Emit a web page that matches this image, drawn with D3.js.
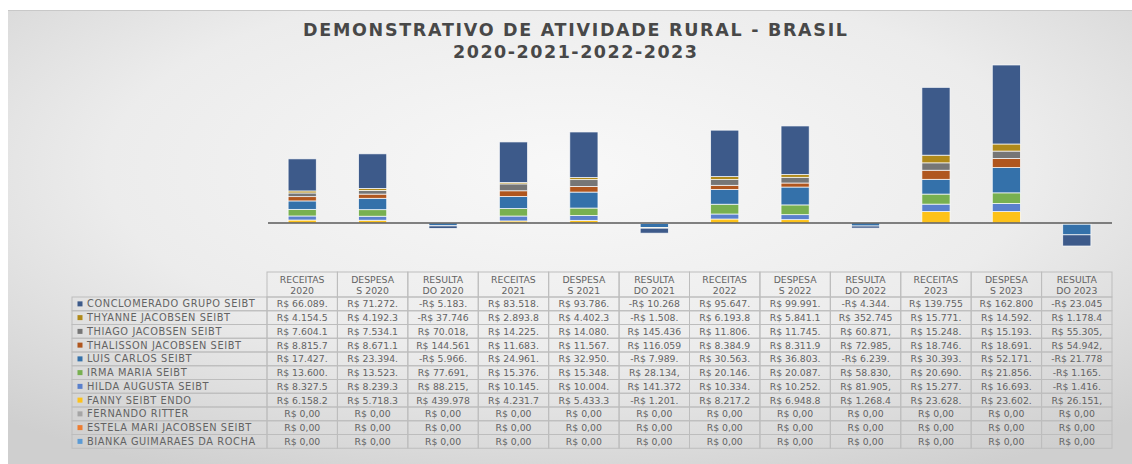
<!DOCTYPE html>
<html><head><meta charset="utf-8">
<script src="https://cdn.jsdelivr.net/npm/d3@7"></script>
<style>html,body{margin:0;padding:0;background:#fff;}svg{display:block;}</style>
</head><body>
<svg id="c" width="1132" height="464"></svg>
<script>
// ---- data ----
const categories = ["RECEITAS 2020","DESPESAS 2020","RESULTADO 2020","RECEITAS 2021","DESPESAS 2021","RESULTADO 2021","RECEITAS 2022","DESPESAS 2022","RESULTADO 2022","RECEITAS 2023","DESPESAS 2023","RESULTADO 2023"];
const headerLines = [["RECEITAS","2020"],["DESPESA","S 2020"],["RESULTA","DO 2020"],["RECEITAS","2021"],["DESPESA","S 2021"],["RESULTA","DO 2021"],["RECEITAS","2022"],["DESPESA","S 2022"],["RESULTA","DO 2022"],["RECEITAS","2023"],["DESPESA","S 2023"],["RESULTA","DO 2023"]];
const seriesNames = ["CONCLOMERADO GRUPO SEIBT","THYANNE JACOBSEN SEIBT","THIAGO JACOBSEN SEIBT","THALISSON JACOBSEN SEIBT","LUIS CARLOS SEIBT","IRMA MARIA SEIBT","HILDA AUGUSTA SEIBT","FANNY SEIBT ENDO","FERNANDO RITTER","ESTELA MARI JACOBSEN SEIBT","BIANKA GUIMARAES DA ROCHA"];
const conclomerado = [66089000,71272000,-5183000,83518000,93786000,-10268000,95647000,99991000,-4344000,139755000,162800000,-23045000];
const thyanne     = [4154500,4192300,-37746,2893800,4402300,-1508000,6193800,5841100,352745,15771000,14592000,1178400];
const thiago      = [7604100,7534100,70018,14225000,14080000,145436,11806000,11745000,60871,15248000,15193000,55305];
const thalisson   = [8815700,8671100,144561,11683000,11567000,116059,8384900,8311900,72985,18746000,18691000,54942];
const luis        = [17427000,23394000,-5966000,24961000,32950000,-7989000,30563000,36803000,-6239000,30393000,52171000,-21778000];
const irma        = [13600000,13523000,77691,15376000,15348000,28134,20146000,20087000,58830,20690000,21856000,-1165000];
const hilda       = [8327500,8239300,88215,10145000,10004000,141372,10334000,10252000,81905,15277000,16693000,-1416000];
const fanny       = [6158200,5718300,439978,4231700,5433300,-1201000,8217200,6948800,1268400,23628000,23602000,26151];
const fernando    = [0,0,0,0,0,0,0,0,0,0,0,0];
const estela      = [0,0,0,0,0,0,0,0,0,0,0,0];
const bianka      = [0,0,0,0,0,0,0,0,0,0,0,0];
const seriesValues = [conclomerado,thyanne,thiago,thalisson,luis,irma,hilda,fanny,fernando,estela,bianka];
const colors = ["#3d5a8a","#b08a1a","#767676","#b0561e","#3471aa","#78b050","#5a80cc","#fdc21a","#a5a5a5","#ed7d31","#5b9bd5"];

// ---- build ----
const svg = d3.select("#c");
const defs = svg.append("defs");
const rg = defs.append("radialGradient").attr("id","bg").attr("cx","50%").attr("cy","35%").attr("r","75%")
  .attr("gradientUnits","objectBoundingBox");
rg.append("stop").attr("offset","0%").attr("stop-color","#f8f8f8");
rg.append("stop").attr("offset","55%").attr("stop-color","#ececec");
rg.append("stop").attr("offset","100%").attr("stop-color","#cfcfcf");
svg.append("rect").attr("x",8).attr("y",10).attr("width",1124).attr("height",454).attr("fill","url(#bg)");
svg.append("line").attr("x1",8).attr("x2",1132).attr("y1",10.5).attr("y2",10.5).attr("stroke","#c8c8c8");

// title
const title = svg.append("g").attr("fill","#484848")
  .attr("font-family","DejaVu Sans").attr("font-weight","bold").attr("font-size",17.5);
title.append("text").attr("text-anchor","middle").attr("x",575).attr("y",35.5).attr("textLength",544).attr("lengthAdjust","spacing").text("DEMONSTRATIVO DE ATIVIDADE RURAL - BRASIL");
title.append("text").attr("text-anchor","middle").attr("x",575).attr("y",57.5).attr("textLength",244).attr("lengthAdjust","spacing").text("2020-2021-2022-2023");

// scales
const tableLeft = 267, tableRight = 1112, labelLeft = 72;
const x = d3.scaleBand().domain(categories).range([tableLeft, tableRight]).paddingInner(0.6).paddingOuter(0.3);
const xCol = d3.scaleBand().domain(categories).range([tableLeft, tableRight]);
const y = d3.scaleLinear().domain([-100e6, 350e6]).range([223 + 100*0.4853, 223 - 350*0.4853]);

// stack
const rows = categories.map((c,i) => { const o = {cat:c}; seriesNames.forEach((s,j)=> o[s] = seriesValues[j][i]); return o; });
const stackKeys = seriesNames.slice().reverse();
const stacked = d3.stack().keys(stackKeys).offset(d3.stackOffsetDiverging)(rows);
const colorOf = d3.scaleOrdinal().domain(seriesNames).range(colors);

svg.append("g").selectAll("g").data(stacked).join("g").attr("fill", d => colorOf(d.key))
  .selectAll("rect").data(d => d).join("rect")
  .attr("x", d => x(d.data.cat)).attr("width", x.bandwidth())
  .attr("y", d => y(Math.max(d[0], d[1]))).attr("height", d => Math.abs(y(d[0]) - y(d[1])))
  .attr("stroke","#ffffff").attr("stroke-width",0.8).attr("stroke-opacity",0.85);

// zero line
svg.append("line").attr("x1",tableLeft+1).attr("x2",tableRight).attr("y1",y(0)).attr("y2",y(0))
  .attr("stroke","#5a5a5a").attr("stroke-width",1.5);

// table
const headTop = 272, rowTop = 297, rowH = 13.75;
const tb = svg.append("g").attr("font-family","DejaVu Sans").attr("fill","#636363");
const lineColor = "#bdbdbd";
categories.forEach((c,i) => {
  tb.append("rect").attr("x", xCol(c)).attr("y", headTop).attr("width", xCol.bandwidth()).attr("height", rowTop-headTop)
    .attr("fill","none").attr("stroke",lineColor).attr("stroke-width",1);
  const t = tb.append("text").attr("text-anchor","middle").attr("font-size",9.3);
  t.append("tspan").attr("x", xCol(c)+xCol.bandwidth()/2).attr("y", headTop+10.5).text(headerLines[i][0]);
  t.append("tspan").attr("x", xCol(c)+xCol.bandwidth()/2).attr("y", headTop+21.5).text(headerLines[i][1]);
});
function fmt(v){
  const a = Math.abs(v).toFixed(2).split(".");
  const intPart = a[0].replace(/\B(?=(\d{3})+(?!\d))/g, ".");
  const s = (v < 0 ? "-" : "") + "R$ " + intPart + "," + a[1];
  return s.length > 10 ? s.slice(0,10) : s;
}
seriesNames.forEach((s,j) => {
  const yy = rowTop + j*rowH;
  tb.append("rect").attr("x", labelLeft).attr("y", yy).attr("width", tableLeft-labelLeft).attr("height", rowH)
    .attr("fill","none").attr("stroke",lineColor);
  tb.append("rect").attr("x", labelLeft+5.5).attr("y", yy+rowH/2-2.5).attr("width",5).attr("height",5).attr("fill", colors[j]);
  tb.append("text").attr("x", labelLeft+15).attr("y", yy+rowH/2+3.4).attr("font-size",9.8)
    .attr("letter-spacing",0.6).text(s);
  categories.forEach((c,i) => {
    tb.append("rect").attr("x", xCol(c)).attr("y", yy).attr("width", xCol.bandwidth()).attr("height", rowH)
      .attr("fill","none").attr("stroke",lineColor);
    tb.append("text").attr("x", xCol(c)+xCol.bandwidth()/2).attr("y", yy+rowH/2+3.4).attr("text-anchor","middle")
      .attr("font-size",9.3).text(fmt(seriesValues[j][i]));
  });
});
</script>
</body></html>
